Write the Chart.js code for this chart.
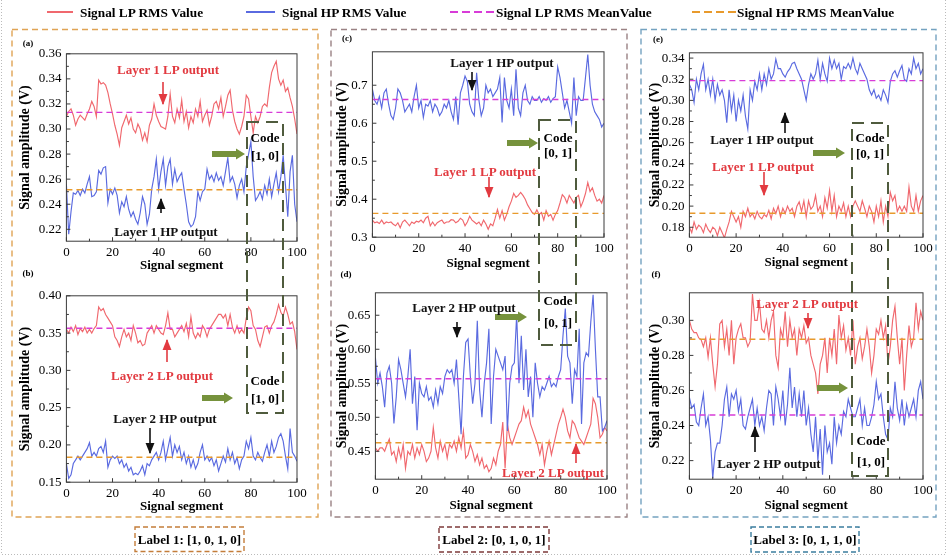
<!DOCTYPE html>
<html><head><meta charset="utf-8">
<script src="https://cdn.jsdelivr.net/npm/chart.js@4.4.1/dist/chart.umd.min.js"></script>
<style>
html,body{margin:0;padding:0;background:#fff;}
#stage{position:relative;width:947px;height:558px;overflow:hidden;background:#fff;}
#stage canvas{position:absolute;}
#ov{position:absolute;left:0;top:0;z-index:5;pointer-events:none;}
#ov text{font-family:'Liberation Serif',serif;font-size:13px;font-weight:bold;dominant-baseline:central;}
#ov .lg{font-size:13.3px;}
</style></head>
<body>
<div id="stage">
<svg id="ov" width="947" height="558" xmlns="http://www.w3.org/2000/svg">
<defs>
<marker id="mk" viewBox="0 0 10 10" refX="9" refY="5" markerWidth="7" markerHeight="7" orient="auto"><path d="M0,1 L10,5 L0,9 Z" fill="#111"/></marker>
<marker id="mr" viewBox="0 0 10 10" refX="9" refY="5" markerWidth="7" markerHeight="7" orient="auto"><path d="M0,1 L10,5 L0,9 Z" fill="#e23a40"/></marker>
</defs>
<polyline points="1.5,0 1.5,554.5 945.5,554.5 945.5,0" fill="none" stroke="#bbb" stroke-width="1" stroke-dasharray="1 2"/>
<line x1="47" y1="12" x2="73" y2="12" stroke="#f0686e" stroke-width="2"/>
<text class="lg" x="80" y="12">Signal LP RMS Value</text>
<line x1="246" y1="12" x2="275" y2="12" stroke="#5a6ae0" stroke-width="2"/>
<text class="lg" x="282" y="12">Signal HP RMS Value</text>
<line x1="450" y1="12" x2="494" y2="12" stroke="#d83cd8" stroke-width="2" stroke-dasharray="8 4"/>
<text class="lg" x="496" y="12">Signal LP RMS MeanValue</text>
<line x1="692" y1="12" x2="736" y2="12" stroke="#e89a2c" stroke-width="2" stroke-dasharray="8 4"/>
<text class="lg" x="737" y="12">Signal HP RMS MeanValue</text>
<rect x="12" y="29.5" width="306" height="487.5" fill="none" stroke="#e0a455" stroke-width="1.4" stroke-dasharray="6 4"/>
<rect x="331" y="29.5" width="296" height="487.5" fill="none" stroke="#9a8284" stroke-width="1.4" stroke-dasharray="6 4"/>
<rect x="641" y="29.5" width="295" height="487.5" fill="none" stroke="#74a2c0" stroke-width="1.4" stroke-dasharray="6 4"/>
<rect x="135" y="527" width="109" height="24.5" fill="none" stroke="#c47d3a" stroke-width="1.4" stroke-dasharray="5 3"/>
<text x="189.5" y="539.5" text-anchor="middle" font-size="12.5">Label 1: [1, 0, 1, 0]</text>
<rect x="439" y="527" width="110" height="25" fill="none" stroke="#7e3a3a" stroke-width="1.4" stroke-dasharray="5 3"/>
<text x="494" y="539.5" text-anchor="middle" font-size="12.5">Label 2: [0, 1, 0, 1]</text>
<rect x="751" y="527" width="108" height="25" fill="none" stroke="#3b7d9e" stroke-width="1.4" stroke-dasharray="5 3"/>
<text x="805" y="539.5" text-anchor="middle" font-size="12.5">Label 3: [0, 1, 1, 0]</text>
<text x="28" y="43" text-anchor="middle" style="font-size:9px">(a)</text>
<text x="28" y="273" text-anchor="middle" style="font-size:9px">(b)</text>
<text x="347" y="38" text-anchor="middle" style="font-size:9px">(c)</text>
<text x="346" y="274" text-anchor="middle" style="font-size:9px">(d)</text>
<text x="658" y="39" text-anchor="middle" style="font-size:9px">(e)</text>
<text x="656" y="274" text-anchor="middle" style="font-size:9px">(f)</text>
<g fill="none" stroke="#4f5b3d" stroke-width="2" stroke-dasharray="12 7">
<rect x="247" y="122" width="36" height="291"/>
<rect x="539" y="120" width="37" height="225"/>
<rect x="852" y="123" width="36" height="353"/>
</g>
<g text-anchor="middle">
<text x="265" y="137" font-weight="normal">Code</text><text x="265" y="155">[1, 0]</text>
<text x="265" y="380" font-weight="normal">Code</text><text x="265" y="398">[1, 0]</text>
<text x="558" y="137" font-weight="normal">Code</text><text x="558" y="152">[0, 1]</text>
<text x="558" y="300" font-weight="normal">Code</text><text x="558" y="322">[0, 1]</text>
<text x="870" y="137" font-weight="normal">Code</text><text x="870" y="153">[0, 1]</text>
<text x="871" y="440" font-weight="normal">Code</text><text x="871" y="461">[1, 0]</text>
</g>
<g fill="#76923c">
<path d="M212,151 L236,151 L236,148.5 L245,154 L236,159.5 L236,157 L212,157 Z"/>
<path d="M202,395 L224,395 L224,392.5 L233,398 L224,403.5 L224,401 L202,401 Z"/>
<path d="M507,140 L529,140 L529,137.5 L538,143 L529,148.5 L529,146 L507,146 Z"/>
<path d="M495,314 L518,314 L518,311.5 L527,317 L518,322.5 L518,320 L495,320 Z"/>
<path d="M813,150 L836,150 L836,147.5 L845,153 L836,158.5 L836,156 L813,156 Z"/>
<path d="M817,385 L839,385 L839,382.5 L848,388 L839,393.5 L839,391 L817,391 Z"/>
</g>
<g text-anchor="middle">
<text x="168" y="69" fill="#e23a40">Layer 1 LP output</text>
<line x1="163" y1="82" x2="163" y2="104" stroke="#e23a40" stroke-width="1.6" marker-end="url(#mr)"/>
<text x="166" y="231" fill="#111">Layer 1 HP output</text>
<line x1="161" y1="213" x2="161" y2="199" stroke="#111" stroke-width="1.6" marker-end="url(#mk)"/>
<text x="162" y="375" fill="#e23a40">Layer 2 LP output</text>
<line x1="167" y1="362" x2="167" y2="340" stroke="#e23a40" stroke-width="1.6" marker-end="url(#mr)"/>
<text x="165" y="418" fill="#111">Layer 2 HP output</text>
<line x1="150" y1="428" x2="150" y2="453" stroke="#111" stroke-width="1.6" marker-end="url(#mk)"/>
<text x="502" y="62" fill="#111">Layer 1 HP output</text>
<line x1="472" y1="72" x2="472" y2="90" stroke="#111" stroke-width="1.6" marker-end="url(#mk)"/>
<text x="485" y="171" fill="#e23a40">Layer 1 LP output</text>
<line x1="489" y1="177" x2="489" y2="197" stroke="#e23a40" stroke-width="1.6" marker-end="url(#mr)"/>
<text x="464" y="307" fill="#111">Layer 2 HP output</text>
<line x1="457" y1="322" x2="457" y2="337" stroke="#111" stroke-width="1.6" marker-end="url(#mk)"/>
<text x="553" y="472" fill="#e23a40">Layer 2 LP output</text>
<line x1="576" y1="463" x2="576" y2="444" stroke="#e23a40" stroke-width="1.6" marker-end="url(#mr)"/>
<text x="762" y="139" fill="#111">Layer 1 HP output</text>
<line x1="785" y1="133" x2="785" y2="113" stroke="#111" stroke-width="1.6" marker-end="url(#mk)"/>
<text x="763" y="166" fill="#e23a40">Layer 1 LP output</text>
<line x1="764" y1="172" x2="764" y2="195" stroke="#e23a40" stroke-width="1.6" marker-end="url(#mr)"/>
<text x="807" y="303" fill="#e23a40">Layer 2 LP output</text>
<line x1="808" y1="313" x2="808" y2="328" stroke="#e23a40" stroke-width="1.6" marker-end="url(#mr)"/>
<text x="769" y="463" fill="#111">Layer 2 HP output</text>
<line x1="755" y1="452" x2="755" y2="427" stroke="#111" stroke-width="1.6" marker-end="url(#mk)"/>
</g>
</svg>
</div>
<script>
// ---------------- DATA ----------------
const segments = Array.from({length: 101}, (_, i) => i);

const aLP = [0.310,0.314,0.316,0.311,0.303,0.308,0.311,0.309,0.307,0.312,
0.316,0.322,0.318,0.310,0.339,0.336,0.337,0.335,0.329,0.320,
0.312,0.303,0.296,0.287,0.301,0.306,0.311,0.304,0.309,0.300,
0.297,0.304,0.300,0.291,0.297,0.290,0.303,0.308,0.320,0.311,
0.306,0.302,0.301,0.300,0.310,0.328,0.310,0.305,0.316,0.309,
0.323,0.306,0.314,0.301,0.310,0.305,0.316,0.310,0.322,0.306,
0.311,0.315,0.303,0.310,0.320,0.322,0.316,0.325,0.310,0.318,
0.327,0.331,0.315,0.306,0.300,0.296,0.302,0.310,0.327,0.324,
0.310,0.297,0.310,0.305,0.310,0.318,0.320,0.318,0.333,0.345,
0.350,0.354,0.340,0.335,0.339,0.330,0.333,0.325,0.318,0.308,0.296];
const aHP = [0.256,0.216,0.234,0.249,0.248,0.251,0.247,0.252,0.249,0.256,
0.262,0.246,0.247,0.250,0.267,0.264,0.269,0.270,0.241,0.252,
0.248,0.253,0.247,0.233,0.242,0.238,0.246,0.236,0.230,0.234,
0.228,0.224,0.233,0.246,0.240,0.224,0.232,0.252,0.262,0.276,
0.252,0.266,0.276,0.255,0.270,0.276,0.256,0.268,0.258,0.262,
0.265,0.252,0.240,0.226,0.222,0.224,0.230,0.250,0.243,0.250,
0.252,0.268,0.260,0.263,0.258,0.265,0.259,0.262,0.255,0.266,
0.277,0.258,0.262,0.256,0.245,0.255,0.260,0.250,0.270,0.280,
0.290,0.262,0.243,0.246,0.250,0.244,0.255,0.248,0.260,0.246,
0.256,0.265,0.250,0.262,0.279,0.255,0.230,0.266,0.279,0.240,0.226];
const bLP = [0.355,0.350,0.358,0.352,0.360,0.348,0.356,0.352,0.358,0.350,
0.355,0.350,0.356,0.360,0.385,0.380,0.383,0.375,0.370,0.365,
0.360,0.345,0.340,0.332,0.345,0.355,0.345,0.350,0.340,0.360,
0.350,0.337,0.340,0.333,0.335,0.350,0.355,0.360,0.350,0.360,
0.355,0.350,0.348,0.360,0.377,0.355,0.355,0.345,0.350,0.355,
0.360,0.352,0.363,0.345,0.372,0.350,0.343,0.350,0.345,0.360,
0.355,0.345,0.355,0.360,0.365,0.370,0.375,0.375,0.370,0.375,
0.360,0.375,0.358,0.350,0.360,0.350,0.355,0.350,0.370,0.385,
0.380,0.360,0.355,0.340,0.332,0.345,0.358,0.360,0.350,0.360,
0.365,0.375,0.388,0.378,0.373,0.385,0.375,0.362,0.365,0.352,0.328];
const bHP = [0.175,0.155,0.160,0.175,0.180,0.185,0.180,0.185,0.190,0.195,
0.203,0.185,0.190,0.185,0.195,0.198,0.190,0.205,0.170,0.180,
0.185,0.182,0.185,0.175,0.180,0.170,0.175,0.165,0.170,0.160,
0.162,0.160,0.165,0.172,0.160,0.175,0.172,0.180,0.185,0.190,
0.180,0.190,0.205,0.180,0.195,0.210,0.185,0.200,0.190,0.198,
0.180,0.190,0.175,0.185,0.170,0.180,0.168,0.175,0.190,0.200,
0.180,0.185,0.178,0.183,0.172,0.180,0.165,0.175,0.185,0.177,
0.195,0.180,0.190,0.175,0.183,0.168,0.180,0.185,0.205,0.195,
0.210,0.185,0.180,0.190,0.183,0.178,0.190,0.200,0.185,0.205,
0.190,0.198,0.210,0.215,0.205,0.185,0.168,0.222,0.190,0.185,0.178];
const cHP = [0.690,0.660,0.650,0.670,0.640,0.680,0.690,0.650,0.620,0.610,
0.640,0.690,0.680,0.660,0.630,0.640,0.650,0.630,0.670,0.700,
0.640,0.660,0.615,0.650,0.645,0.660,0.630,0.650,0.640,0.620,
0.630,0.650,0.640,0.660,0.630,0.610,0.670,0.596,0.680,0.700,
0.724,0.710,0.650,0.630,0.620,0.733,0.660,0.620,0.640,0.700,
0.680,0.690,0.670,0.680,0.690,0.720,0.602,0.720,0.660,0.640,
0.690,0.620,0.742,0.640,0.620,0.680,0.700,0.660,0.650,0.670,
0.660,0.660,0.670,0.655,0.665,0.660,0.670,0.655,0.665,0.670,
0.748,0.720,0.680,0.640,0.660,0.630,0.600,0.720,0.620,0.670,
0.660,0.660,0.720,0.781,0.700,0.650,0.630,0.620,0.610,0.590,0.600];
const cLP = [0.345,0.338,0.340,0.336,0.345,0.335,0.340,0.338,0.340,0.334,
0.330,0.338,0.325,0.340,0.345,0.338,0.330,0.340,0.336,0.342,
0.340,0.345,0.338,0.350,0.355,0.330,0.340,0.330,0.338,0.342,
0.345,0.336,0.340,0.340,0.346,0.345,0.338,0.342,0.350,0.345,
0.330,0.340,0.355,0.345,0.340,0.335,0.340,0.330,0.345,0.335,
0.321,0.335,0.330,0.350,0.373,0.350,0.370,0.345,0.360,0.380,
0.395,0.415,0.405,0.410,0.418,0.410,0.400,0.385,0.375,0.365,
0.360,0.372,0.360,0.365,0.345,0.370,0.355,0.360,0.345,0.360,
0.370,0.390,0.412,0.405,0.390,0.410,0.400,0.390,0.405,0.410,
0.380,0.395,0.415,0.444,0.420,0.430,0.410,0.395,0.400,0.390,0.410];
const dHP = [0.588,0.550,0.565,0.545,0.515,0.565,0.575,0.550,0.491,0.530,
0.585,0.570,0.550,0.530,0.560,0.600,0.520,0.560,0.481,0.550,
0.535,0.530,0.545,0.525,0.530,0.515,0.540,0.520,0.545,0.535,
0.560,0.570,0.565,0.570,0.550,0.585,0.530,0.475,0.560,0.610,
0.615,0.560,0.520,0.550,0.642,0.540,0.500,0.550,0.580,0.630,
0.490,0.560,0.600,0.590,0.580,0.570,0.590,0.480,0.550,0.575,
0.580,0.651,0.550,0.620,0.540,0.600,0.530,0.560,0.500,0.580,
0.550,0.530,0.545,0.540,0.550,0.560,0.545,0.550,0.545,0.560,
0.570,0.620,0.660,0.590,0.580,0.520,0.570,0.560,0.630,0.490,
0.580,0.595,0.590,0.640,0.680,0.600,0.530,0.530,0.480,0.485,0.495];
const dLP = [0.455,0.450,0.455,0.455,0.450,0.460,0.468,0.445,0.450,0.435,
0.455,0.440,0.460,0.425,0.450,0.445,0.460,0.440,0.455,0.445,
0.460,0.450,0.435,0.440,0.450,0.485,0.455,0.440,0.465,0.450,
0.460,0.440,0.460,0.455,0.465,0.450,0.470,0.455,0.480,0.440,
0.445,0.460,0.450,0.435,0.445,0.430,0.440,0.425,0.430,0.420,
0.425,0.440,0.430,0.450,0.460,0.493,0.425,0.490,0.470,0.460,
0.470,0.480,0.490,0.495,0.515,0.500,0.510,0.490,0.480,0.470,
0.460,0.445,0.460,0.430,0.450,0.465,0.445,0.460,0.475,0.490,
0.500,0.512,0.500,0.480,0.470,0.495,0.490,0.480,0.470,0.465,
0.460,0.470,0.480,0.490,0.528,0.520,0.500,0.470,0.475,0.485,0.480];
const eHP = [0.315,0.310,0.298,0.320,0.310,0.325,0.334,0.310,0.320,0.305,
0.320,0.300,0.315,0.305,0.310,0.300,0.279,0.310,0.290,0.305,
0.280,0.300,0.290,0.305,0.285,0.273,0.310,0.300,0.318,0.310,
0.325,0.310,0.325,0.315,0.330,0.320,0.325,0.339,0.330,0.330,
0.325,0.322,0.327,0.330,0.335,0.336,0.330,0.325,0.320,0.310,
0.300,0.315,0.325,0.320,0.325,0.338,0.320,0.335,0.325,0.318,
0.340,0.330,0.338,0.330,0.335,0.320,0.332,0.330,0.335,0.330,
0.340,0.330,0.325,0.335,0.330,0.325,0.320,0.310,0.305,0.310,
0.302,0.305,0.300,0.310,0.305,0.298,0.318,0.325,0.328,0.322,
0.328,0.333,0.320,0.318,0.330,0.325,0.340,0.330,0.335,0.325,0.330];
const eLP = [0.180,0.175,0.185,0.178,0.182,0.180,0.175,0.183,0.178,0.175,
0.180,0.178,0.172,0.180,0.175,0.170,0.178,0.185,0.195,0.190,
0.185,0.190,0.180,0.195,0.190,0.198,0.190,0.193,0.188,0.195,
0.190,0.188,0.192,0.190,0.196,0.188,0.198,0.193,0.200,0.190,
0.198,0.193,0.200,0.195,0.198,0.190,0.200,0.204,0.195,0.205,
0.190,0.205,0.197,0.200,0.210,0.195,0.200,0.190,0.208,0.198,
0.215,0.195,0.210,0.190,0.200,0.195,0.203,0.190,0.200,0.190,
0.200,0.205,0.200,0.195,0.205,0.198,0.190,0.200,0.195,0.185,
0.200,0.190,0.205,0.185,0.200,0.190,0.213,0.205,0.210,0.195,
0.200,0.195,0.200,0.195,0.218,0.200,0.195,0.210,0.195,0.205,0.210];
const fLP = [0.300,0.295,0.293,0.293,0.290,0.289,0.285,0.290,0.279,0.290,
0.275,0.262,0.275,0.298,0.300,0.285,0.295,0.280,0.300,0.275,
0.290,0.295,0.298,0.290,0.290,0.285,0.288,0.315,0.300,0.300,
0.310,0.295,0.293,0.300,0.290,0.300,0.305,0.280,0.273,0.295,
0.290,0.305,0.285,0.300,0.290,0.295,0.280,0.295,0.290,0.297,
0.287,0.290,0.280,0.275,0.270,0.258,0.275,0.280,0.290,0.270,
0.290,0.280,0.295,0.275,0.303,0.290,0.297,0.283,0.290,0.280,
0.300,0.275,0.285,0.290,0.278,0.285,0.295,0.285,0.270,0.280,
0.295,0.292,0.300,0.290,0.297,0.275,0.285,0.300,0.308,0.290,
0.275,0.290,0.260,0.280,0.297,0.285,0.290,0.310,0.295,0.305,0.300];
const fHP = [0.256,0.250,0.252,0.242,0.240,0.250,0.258,0.240,0.245,0.232,
0.210,0.225,0.230,0.230,0.240,0.255,0.262,0.245,0.258,0.255,
0.260,0.248,0.255,0.240,0.238,0.245,0.250,0.255,0.240,0.250,
0.240,0.245,0.237,0.250,0.260,0.258,0.240,0.262,0.255,0.245,
0.260,0.240,0.252,0.273,0.250,0.262,0.245,0.258,0.245,0.260,
0.240,0.250,0.235,0.225,0.245,0.220,0.238,0.212,0.240,0.225,
0.230,0.218,0.245,0.230,0.240,0.235,0.248,0.245,0.255,0.250,
0.245,0.245,0.250,0.255,0.240,0.250,0.240,0.240,0.245,0.252,
0.265,0.255,0.258,0.245,0.235,0.232,0.250,0.245,0.265,0.250,
0.243,0.255,0.240,0.252,0.245,0.250,0.255,0.245,0.260,0.265,0.255];

// mean values
const aLPmean = 0.3133, aHPmean = 0.2515;
const bLPmean = 0.3564, bHPmean = 0.1834;
const cHPmean = 0.6625, cLPmean = 0.3627;
const dHPmean = 0.5566, dLPmean = 0.4626;
const eHPmean = 0.3187, eLPmean = 0.1932;
const fLPmean = 0.2892, fHPmean = 0.2460;

// tick labels
const xTicks = ['0','20','40','60','80','100'];
const ticksA = ['0.22','0.24','0.26','0.28','0.30','0.32','0.34','0.36'];
const ticksB = ['0.15','0.20','0.25','0.30','0.35','0.40'];
const ticksC = ['0.3','0.4','0.5','0.6','0.7'];
const ticksD = ['0.45','0.50','0.55','0.60','0.65'];
const ticksE = ['0.18','0.20','0.22','0.24','0.26','0.28','0.30','0.32','0.34'];
const ticksF = ['0.22','0.24','0.26','0.28','0.30'];

// ---------------- STYLE / LAYOUT ----------------
const LPc = '#f0686e', HPc = '#5a6ae0', MAG = '#d83cd8', ORG = '#e89a2c';
const FONT = 'Liberation Serif';

const panels = [
  {rect:[66,53,297,241], yMin:0.2105, yMax:0.36, ticks:ticksA, yDist:41, xGap:24,
   lines:[[aLP,LPc],[aHP,HPc]], means:[[aLPmean,MAG],[aHPmean,ORG]]},
  {rect:[66,295,297,482], yMin:0.15, yMax:0.40, ticks:ticksB, yDist:41, xGap:24,
   lines:[[bLP,LPc],[bHP,HPc]], means:[[bLPmean,MAG],[bHPmean,ORG]]},
  {rect:[372,51,604,237], yMin:0.3, yMax:0.788, ticks:ticksC, yDist:30, xGap:26,
   lines:[[cHP,HPc],[cLP,LPc]], means:[[cHPmean,MAG],[cLPmean,ORG]]},
  {rect:[375,292,607,479], yMin:0.409, yMax:0.683, ticks:ticksD, yDist:33, xGap:26,
   lines:[[dHP,HPc],[dLP,LPc]], means:[[dHPmean,MAG],[dLPmean,ORG]]},
  {rect:[689,52,923,237], yMin:0.1706, yMax:0.345, ticks:ticksE, yDist:34, xGap:25,
   lines:[[eHP,HPc],[eLP,LPc]], means:[[eHPmean,MAG],[eLPmean,ORG]]},
  {rect:[689,292,923,479], yMin:0.2094, yMax:0.3157, ticks:ticksF, yDist:34, xGap:26,
   lines:[[fLP,LPc],[fHP,HPc]], means:[[fLPmean,ORG],[fHPmean,MAG]]},
];

const framePlugin = {
  id: 'frame',
  afterDatasetsDraw(chart) {
    const {ctx, chartArea: a, scales: {x, y}} = chart;
    ctx.save();
    ctx.strokeStyle = '#3a3a3a';
    ctx.lineWidth = 1;
    ctx.strokeRect(a.left, a.top, a.right - a.left, a.bottom - a.top);
    ctx.beginPath();
    const xt = x.ticks.map(t => t.value);
    xt.forEach((v, i) => {
      const p = x.getPixelForValue(v);
      ctx.moveTo(p, a.bottom); ctx.lineTo(p, a.bottom - 4);
      if (i < xt.length - 1) {
        const m = x.getPixelForValue((v + xt[i + 1]) / 2);
        ctx.moveTo(m, a.bottom); ctx.lineTo(m, a.bottom - 2.5);
      }
    });
    const yt = y.ticks.map(t => t.value);
    yt.forEach((v, i) => {
      const p = y.getPixelForValue(v);
      ctx.moveTo(a.left, p); ctx.lineTo(a.left + 4, p);
      if (i < yt.length - 1) {
        const m = y.getPixelForValue((v + yt[i + 1]) / 2);
        ctx.moveTo(a.left, m); ctx.lineTo(a.left + 2.5, m);
      }
    });
    ctx.stroke();
    ctx.restore();
  }
};

const stage = document.getElementById('stage');
const ov = document.getElementById('ov');
const PT = 12, PR = 16;

panels.forEach(p => {
  const [l, t, r, b] = p.rect;
  const YW = p.yDist + 8.4;
  const XH = p.xGap + 7.8;
  const W = YW + (r - l) + PR;
  const H = PT + (b - t) + XH;
  const cv = document.createElement('canvas');
  cv.width = Math.round(W); cv.height = Math.round(H);
  cv.style.left = (l - YW) + 'px';
  cv.style.top = (t - PT) + 'px';
  cv.style.width = Math.round(W) + 'px';
  cv.style.height = Math.round(H) + 'px';
  stage.insertBefore(cv, ov);

  const tickVals = p.ticks.map(Number);
  const datasets = [];
  p.means.forEach(([m, c]) => datasets.push({
    data: [{x: 0, y: m}, {x: 100, y: m}], borderColor: c, borderWidth: 1.4,
    borderDash: [6, 4], pointRadius: 0, order: 0
  }));
  p.lines.forEach(([arr, c]) => datasets.push({
    data: arr, borderColor: c, borderWidth: 1.15, pointRadius: 0, tension: 0, order: 1
  }));

  new Chart(cv, {
    type: 'line',
    data: {labels: segments, datasets},
    plugins: [framePlugin],
    options: {
      responsive: false, animation: false, devicePixelRatio: 1,
      layout: {padding: {left: 0, top: PT, right: PR, bottom: 0}},
      plugins: {legend: {display: false}, tooltip: {enabled: false}},
      scales: {
        x: {
          type: 'linear', min: 0, max: 100,
          afterBuildTicks: s => { s.ticks = xTicks.map(v => ({value: Number(v)})); },
          afterFit: s => { s.height = XH; },
          grid: {display: false, drawTicks: false}, border: {display: false},
          ticks: {padding: 4, maxRotation: 0, autoSkip: false, color: '#000',
                  font: {family: FONT, size: 13}, callback: (v, i) => xTicks[i]},
          title: {display: true, text: 'Signal segment', color: '#000', padding: 0,
                  font: {family: FONT, size: 13, weight: 'bold'}}
        },
        y: {
          type: 'linear', min: p.yMin, max: p.yMax,
          afterBuildTicks: s => { s.ticks = tickVals.map(v => ({value: v})); },
          afterFit: s => { s.width = YW; },
          grid: {display: false, drawTicks: false}, border: {display: false},
          ticks: {padding: 5, autoSkip: false, color: '#000',
                  font: {family: FONT, size: 13}, callback: (v, i) => p.ticks[i]},
          title: {display: true, text: 'Signal amplitude (V)', color: '#000', padding: 0,
                  font: {family: FONT, size: 14, weight: 'bold'}}
        }
      }
    }
  });
});
</script>
</body></html>
